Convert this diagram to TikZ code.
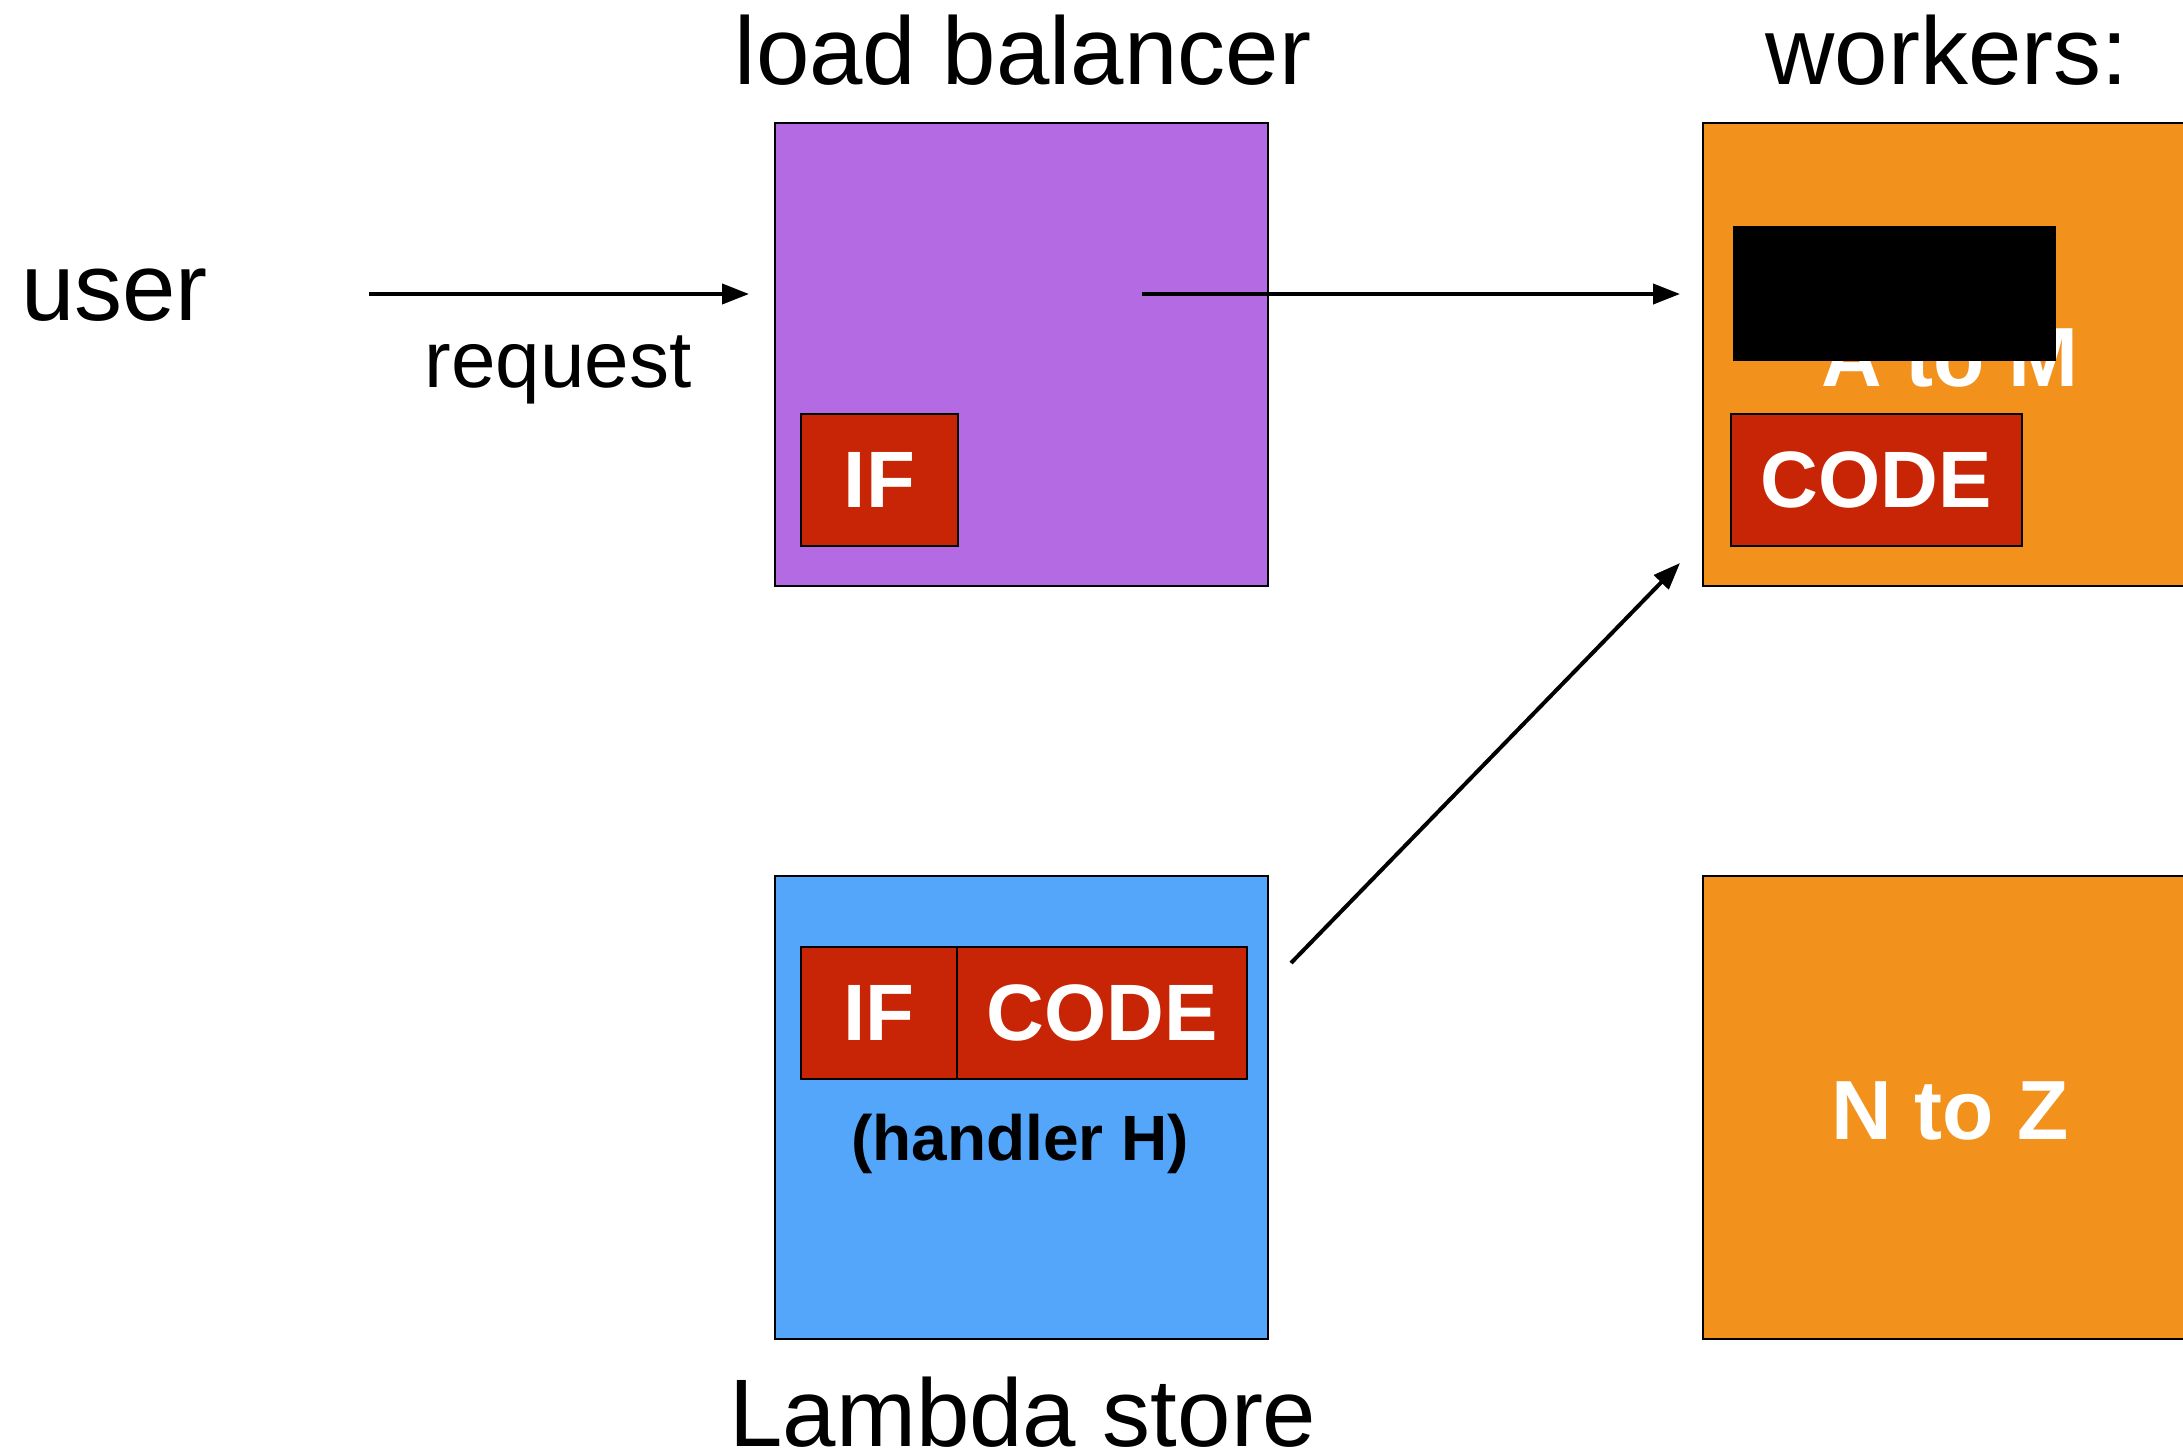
\documentclass[tikz,border=0pt]{standalone}
\usepackage{fontspec}
\setmainfont{Liberation Sans}
\usetikzlibrary{arrows.meta}
\definecolor{lbpurple}{RGB}{179,106,226}
\definecolor{wkorange}{RGB}{242,145,28}
\definecolor{stblue}{RGB}{83,166,250}
\definecolor{cdred}{RGB}{200,37,6}
\tikzset{
  box/.style={draw=black, line width=2.6pt, inner sep=0pt, outer sep=0pt, anchor=north west},
  redbox/.style={box, fill=cdred},
  redtext/.style={font=\fontsize{80}{80}\selectfont\bfseries, text=white},
  biglabel/.style={font=\fontsize{96}{96}\selectfont, text=black, anchor=base, inner sep=0pt, text depth=0pt},
  wlabel/.style={font=\fontsize{84}{84}\selectfont\bfseries, text=white, anchor=base, inner sep=0pt},
  conn/.style={line width=4pt, -{Triangle[length=27pt,width=20pt]}}
}
\begin{document}
\begin{tikzpicture}[x=1pt,y=-1pt]
\clip (0,0) rectangle (2183,1454);
\fill[white] (0,0) rectangle (2183,1454);

% labels
\node[biglabel] (lbl) at (1023,84) {load balancer};
\node[biglabel] (wkl) at (1947,84) {workers:};
\node[biglabel, anchor=base west] (user) at (21,320) {user};
\node[biglabel, font=\fontsize{80}{80}\selectfont] (req) at (558,387) {request};
\node[biglabel] (lsl) at (1023,1446) {Lambda store};

% load balancer
\node[box, fill=lbpurple, minimum width=493pt, minimum height=463pt] (lb) at (775,123) {};
\node[redbox, minimum width=157pt, minimum height=132pt] (lbif) at (801,414) {};
\node[redtext] (lbift) at (lbif.center) {IF};

% workers
\node[box, fill=wkorange, minimum width=520pt, minimum height=463pt] (wa) at (1703,123) {};
\node[wlabel] (atom) at (1950,386) {A to M};
\node[box, draw=none, fill=black, minimum width=323pt, minimum height=135pt] (redact) at (1733,226) {};
\node[redbox, minimum width=291pt, minimum height=132pt] (wcode) at (1731,414) {};
\node[redtext] (wcodet) at (wcode.center) {CODE};

\node[box, fill=wkorange, minimum width=520pt, minimum height=463pt] (wn) at (1703,876) {};
\node[wlabel] (ntoz) at (1950,1139) {N to Z};

% lambda store
\node[box, fill=stblue, minimum width=493pt, minimum height=463pt] (ls) at (775,876) {};
\node[redbox, minimum width=156pt, minimum height=132pt] (lsif) at (801,947) {};
\node[redbox, minimum width=290pt, minimum height=132pt] (lscode) at (957,947) {};
\node[redtext] (lsift) at (lsif.center) {IF};
\node[redtext] (lscodet) at (lscode.center) {CODE};
\node[font=\fontsize{64}{64}\selectfont\bfseries, text=black, anchor=base, inner sep=0pt] (handler) at (1020,1160) {(handler H)};

% connectors
\coordinate (r1) at (369,294);
\coordinate (r2) at (749,294);
\coordinate (f1) at (1142,294);
\coordinate (f2) at (1680,294);
\coordinate (d1) at (1291,963);
\coordinate (d2) at (1680,563);
\draw[conn] (r1) -- (r2);
\draw[conn] (f1) -- (f2);
\draw[conn] (d1) -- (d2);
\end{tikzpicture}
\end{document}
